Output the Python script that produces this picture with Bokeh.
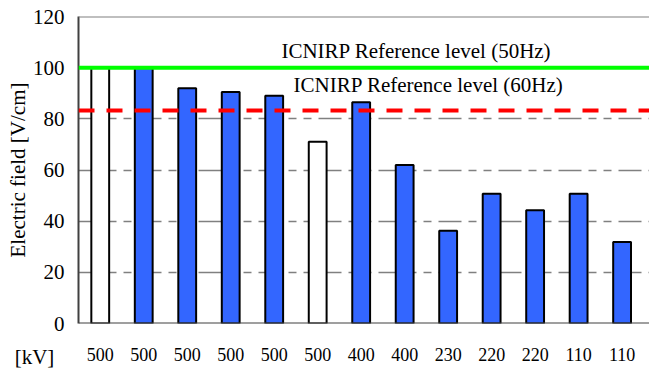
from bokeh.plotting import figure
from bokeh.models import Range1d, Span, Label, FixedTicker, ColumnDataSource
from bokeh.transform import factor_cmap
from bokeh.embed import file_html
from bokeh.resources import INLINE

# Line voltage of each measured span and its peak electric field
kv_labels = ["500", "500", "500", "500", "500", "500", "400", "400",
             "230", "220", "220", "110", "110"]
field_values = [100, 100, 92, 90.5, 89, 71, 86.5, 62, 36.3, 50.7, 44.3, 50.7, 31.9]
bar_kind = ["open", "solid", "solid", "solid", "solid", "open", "solid", "solid",
            "solid", "solid", "solid", "solid", "solid"]

# ICNIRP reference levels [V/cm]
ref_50hz = 100
ref_60hz = 83.3
y_ticks = [0, 20, 40, 60, 80, 100, 120]

positions = list(range(1, len(kv_labels) + 1))
src = ColumnDataSource(dict(x=positions, value=field_values, kind=bar_kind))

SERIF = "Liberation Serif"

p = figure(width=649, height=370, output_backend="svg", toolbar_location=None,
           x_range=Range1d(0.5, 13.63), y_range=Range1d(0, 120),
           min_border_left=78, min_border_right=0, min_border_top=16,
           min_border_bottom=47)
p.outline_line_color = None
p.background_fill_color = "white"
p.border_fill_color = "white"

# grid
p.xgrid.visible = False
p.ygrid.ticker = FixedTicker(ticks=y_ticks)
p.ygrid.grid_line_color = "#808080"
p.ygrid.grid_line_width = 1.5
p.ygrid.grid_line_dash = "23 7 8 7 8 7"

# bars
p.vbar(x="x", top="value", width=0.41, source=src,
       fill_color=factor_cmap("kind", ["white", "#3366ff"], ["open", "solid"]),
       line_color="black", line_width=2)

# top and bottom borders of the plotting area
p.add_layout(Span(location=120, dimension="width", line_color="#808080", line_width=2))
p.add_layout(Span(location=0, dimension="width", line_color="#404040", line_width=2))

# reference levels
p.add_layout(Span(location=ref_50hz, dimension="width", line_color="#00ff00", line_width=4))
p.add_layout(Span(location=ref_60hz, dimension="width", line_color="#ff0000",
                  line_width=4, line_dash="16 12"))

p.add_layout(Label(x=8.27, y=106.6, text="ICNIRP Reference level (50Hz)",
                   text_align="center", text_baseline="middle",
                   text_font=SERIF, text_font_size="21px", text_color="black"))
p.add_layout(Label(x=8.55, y=93.4, text="ICNIRP Reference level (60Hz)",
                   text_align="center", text_baseline="middle",
                   text_font=SERIF, text_font_size="21px", text_color="black"))

# x axis: voltage labels
xa = p.xaxis[0]
xa.ticker = FixedTicker(ticks=positions)
xa.major_label_overrides = {i: lbl for i, lbl in zip(positions, kv_labels)}
xa.major_tick_line_color = None
xa.major_tick_out = 0
xa.major_tick_in = 0
xa.minor_tick_line_color = None
xa.axis_line_color = None
xa.major_label_standoff = 0
xa.major_label_text_font = SERIF
xa.major_label_text_font_size = "18px"
xa.major_label_text_color = "black"

# unit of the voltage row, in its own panel between the frame and the x axis
kv_unit = Label(x=-44, y=-9, x_units="screen", y_units="screen", text="[kV]",
                text_align="center", text_baseline="middle",
                text_font=SERIF, text_font_size="21px", text_color="black")
p.below = [kv_unit, xa]

# y axis
ya = p.yaxis[0]
ya.ticker = FixedTicker(ticks=y_ticks)
ya.axis_label = "Electric field [V/cm]"
ya.axis_label_text_font = SERIF
ya.axis_label_text_font_style = "normal"
ya.axis_label_text_font_size = "21px"
ya.axis_label_text_color = "black"
ya.axis_label_standoff = 0
ya.major_tick_line_color = None
ya.major_tick_out = 0
ya.major_tick_in = 0
ya.minor_tick_line_color = None
ya.axis_line_color = "#404040"
ya.axis_line_width = 2
ya.major_label_standoff = 14
ya.major_label_text_font = SERIF
ya.major_label_text_font_size = "21px"
ya.major_label_text_color = "black"

open("out.html", "w").write(file_html(p, INLINE))
